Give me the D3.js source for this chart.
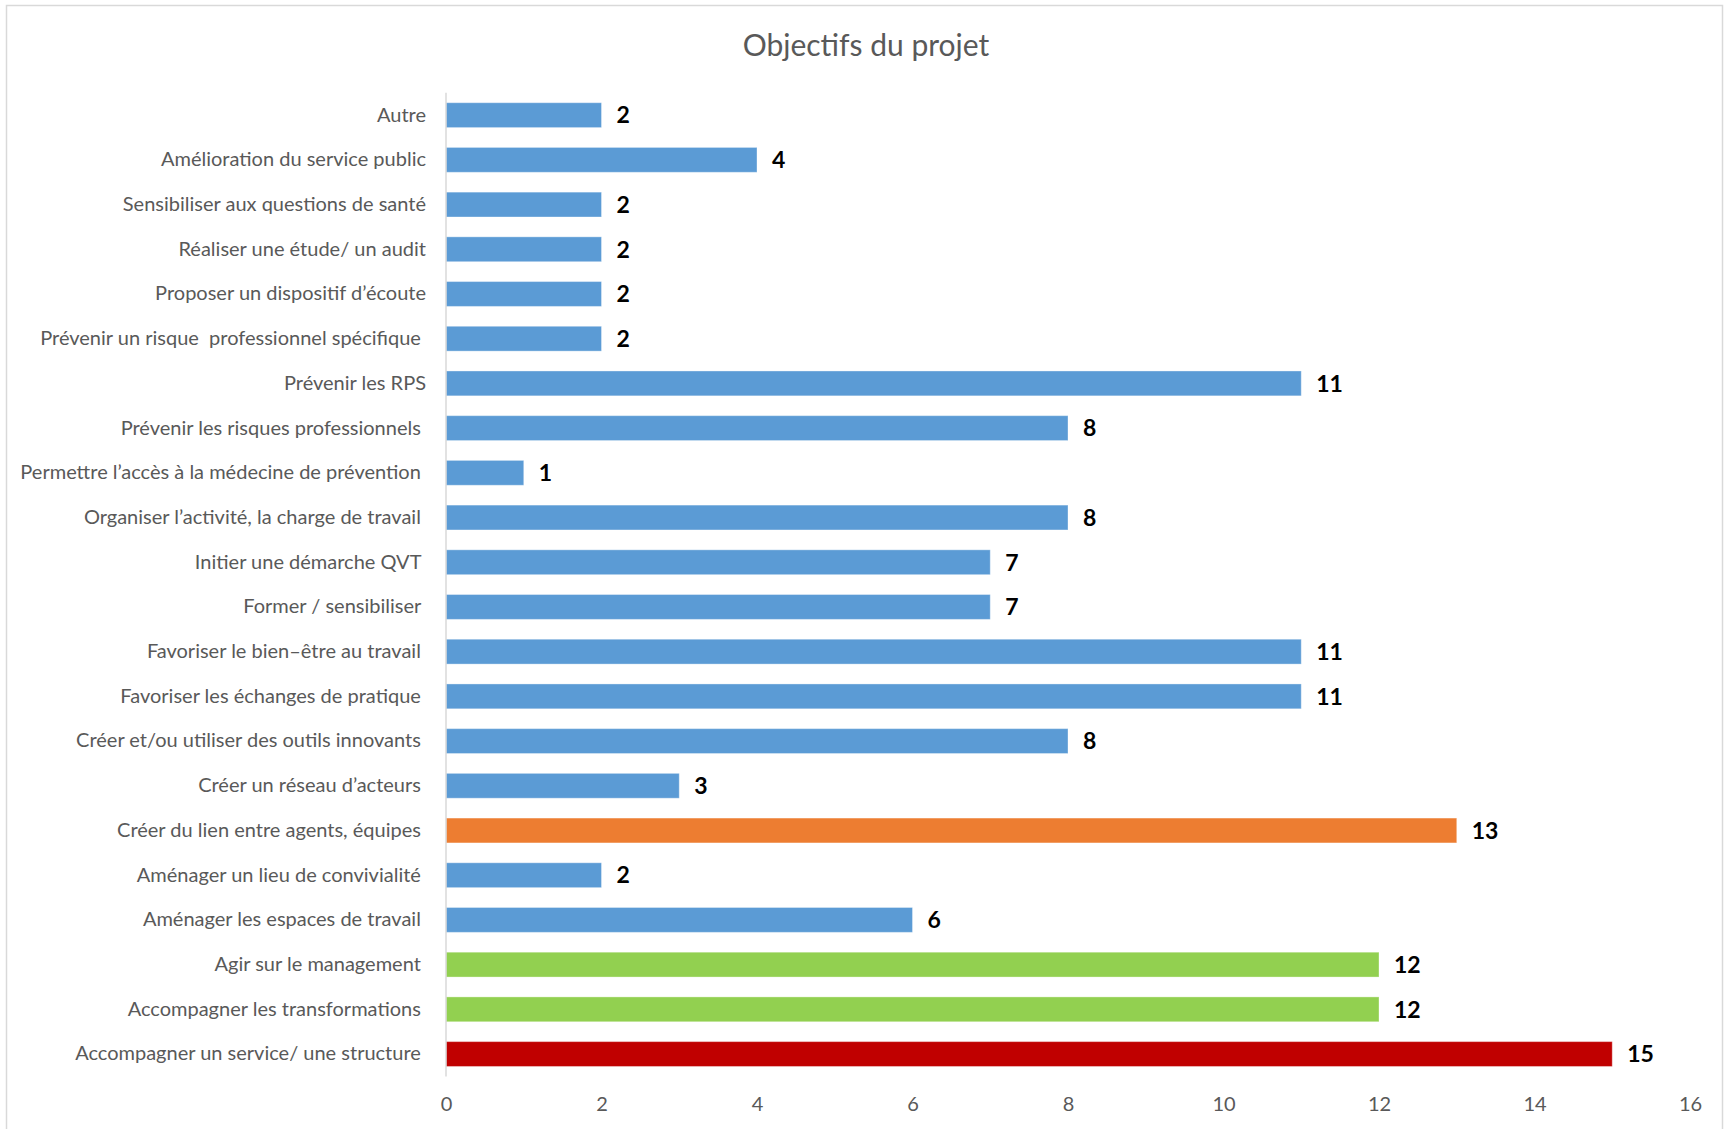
<!DOCTYPE html>
<html>
<head>
<meta charset="utf-8">
<script src="https://cdn.jsdelivr.net/npm/d3@7"></script>
<style>
  body { margin: 0; background: #ffffff; }
  svg { display: block; }
</style>
</head>
<body>
<div id="myDiv"></div>
<script>
//--------------------------------------------------
// Data
//--------------------------------------------------
var chartTitle = 'Objectifs du projet';

// top to bottom, as in the chart
var categories = [
  'Autre',
  'Amélioration du service public',
  'Sensibiliser aux questions de santé',
  'Réaliser une étude/ un audit',
  'Proposer un dispositif d’écoute',
  'Prévenir un risque  professionnel spécifique\u00a0',
  'Prévenir les RPS',
  'Prévenir les risques professionnels\u00a0',
  'Permettre l’accès à la médecine de prévention\u00a0',
  'Organiser l’activité, la charge de travail\u00a0',
  'Initier une démarche QVT\u00a0',
  'Former / sensibiliser\u00a0',
  'Favoriser le bien–être au travail\u00a0',
  'Favoriser les échanges de pratique\u00a0',
  'Créer et/ou utiliser des outils innovants\u00a0',
  'Créer un réseau d’acteurs\u00a0',
  'Créer du lien entre agents, équipes\u00a0',
  'Aménager un lieu de convivialité\u00a0',
  'Aménager les espaces de travail\u00a0',
  'Agir sur le management\u00a0',
  'Accompagner les transformations\u00a0',
  'Accompagner un service/ une structure\u00a0'
];

var values = [2, 4, 2, 2, 2, 2, 11, 8, 1, 8, 7, 7, 11, 11, 8, 3, 13, 2, 6, 12, 12, 15];

var xTicks = [0, 2, 4, 6, 8, 10, 12, 14, 16];

// highlighted bars (index into categories) -> colour group
var highlightGroups = { 16: 'orange', 19: 'green', 20: 'green', 21: 'red' };

//--------------------------------------------------
// Styles
//--------------------------------------------------
var groupColors = {
  'default': '#5B9BD5',
  'orange': '#ED7D31',
  'green': '#92D050',
  'red': '#C00000'
};
var textColor = '#595959';
var gridColor = '#D9D9D9';
var fontFamily = 'Lato, "Open Sans", sans-serif';

var width = 1726, height = 1129;
var plot = { left: 446, right: 1690, top: 92.8, bottom: 1076.4 };

var svg = d3.select('#myDiv').append('svg')
  .attr('width', width)
  .attr('height', height);

// chart frame
svg.append('rect')
  .attr('x', 6.5)
  .attr('y', 5.5)
  .attr('width', 1716)
  .attr('height', height + 20)
  .attr('fill', '#ffffff')
  .attr('stroke', gridColor)
  .attr('stroke-width', 1.5);

// title
svg.append('text')
  .attr('x', 866)
  .attr('y', 56)
  .attr('text-anchor', 'middle')
  .style('font-family', fontFamily)
  .style('font-size', '30px')
  .style('fill', textColor)
  .text(chartTitle);

var x = d3.scaleLinear()
  .domain([xTicks[0], xTicks[xTicks.length - 1]])
  .range([plot.left, plot.right]);

var y = d3.scaleBand()
  .domain(d3.range(categories.length))
  .range([plot.top, plot.bottom])
  .paddingInner(0.444)
  .paddingOuter(0.222);

// x axis (labels only)
var xAxis = svg.append('g')
  .attr('transform', 'translate(0,' + plot.bottom + ')')
  .call(d3.axisBottom(x).tickValues(xTicks).tickSize(0).tickPadding(20));
xAxis.select('.domain').remove();
xAxis.selectAll('text')
  .style('font-family', fontFamily)
  .style('font-size', '20px')
  .style('fill', textColor);

// bars
svg.append('g')
  .selectAll('rect')
  .data(values)
  .enter().append('rect')
    .attr('x', x(0))
    .attr('y', function(d, i) { return y(i); })
    .attr('width', function(d) { return x(d) - x(0); })
    .attr('height', y.bandwidth())
    .attr('fill', function(d, i) { return groupColors[highlightGroups[i] || 'default']; })
    .attr('stroke', '#ffffff')
    .attr('stroke-opacity', 0.35)
    .attr('stroke-width', 1);

// y axis line + category labels
var yAxis = svg.append('g')
  .attr('transform', 'translate(' + plot.left + ',0)')
  .call(d3.axisLeft(y).tickSize(0).tickPadding(20).tickFormat(function(i) { return categories[i]; }));
yAxis.select('.domain')
  .attr('stroke', gridColor)
  .attr('stroke-width', 1.5)
  .attr('d', 'M0,' + plot.top + 'V' + plot.bottom);
yAxis.selectAll('text')
  .attr('xml:space', 'preserve')
  .style('white-space', 'pre')
  .style('font-family', fontFamily)
  .style('font-size', '20px')
  .style('fill', textColor);

// data labels
svg.append('g')
  .selectAll('text')
  .data(values)
  .enter().append('text')
    .attr('x', function(d) { return x(d) + 15; })
    .attr('y', function(d, i) { return y(i) + y.bandwidth() / 2; })
    .attr('dy', '0.36em')
    .style('font-family', fontFamily)
    .style('font-size', '23px')
    .style('font-weight', 'bold')
    .style('fill', '#000000')
    .text(function(d) { return d; });
</script>
</body>
</html>
